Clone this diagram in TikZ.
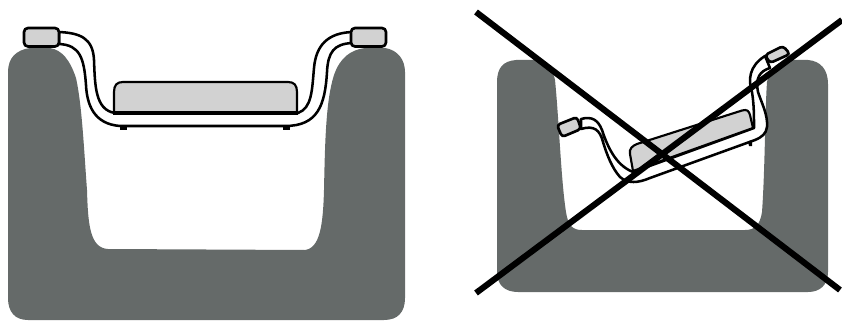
\documentclass[tikz,border=0pt]{standalone}
\usepackage{xcolor}
\definecolor{traygrey}{HTML}{656A69}
\definecolor{padgrey}{HTML}{D2D2D2}

\begin{document}
\begin{tikzpicture}[
  x=0.75pt, y=-0.75pt,
  tray/.style={fill=traygrey, draw=none},
  lead/.style={draw=black, fill=white, line width=1.9pt, line join=round},
  body/.style={draw=black, fill=padgrey, line width=1.6pt, line join=round},
  pad/.style={draw=black, fill=padgrey, line width=2pt, rounded corners=3pt},
  cross/.style={draw=black, line width=4.6pt}
]
\useasboundingbox (0,0) rectangle (842,321);

% good tray
\path[tray] (8,72) .. controls (8,58) and (16,50) .. (30,48) -- (50,48)
  .. controls (62,50) and (70,60) .. (76,78)
  .. controls (82,105) and (84,150) .. (87,190)
  .. controls (88,225) and (90,248) .. (108,249) -- (305,250)
  .. controls (320,248) and (323,225) .. (324,190)
  .. controls (325,140) and (326,100) .. (334,75)
  .. controls (340,58) and (350,50) .. (365,48) -- (385,48)
  .. controls (398,50) and (405,60) .. (405,72) -- (405,298)
  .. controls (405,312) and (398,320) .. (384,320) -- (28,320)
  .. controls (15,320) and (8,312) .. (8,298) -- cycle;

% good part
\draw[lead] (59,32) .. controls (80,33) and (93,38) .. (94,60)
  .. controls (95,85) and (95,110) .. (115,113) -- (298,113)
  .. controls (312,108) and (312,90) .. (314,68)
  .. controls (316,45) and (328,33) .. (352,32) -- (352,43)
  .. controls (334,44) and (328,52) .. (327,72)
  .. controls (325,105) and (318,126) .. (285,126) -- (120,126)
  .. controls (94,124) and (87,105) .. (86,85)
  .. controls (84,58) and (80,45) .. (59,44) -- cycle;
\fill[black] (120,126) rectangle (127,129.5);
\fill[black] (283,126) rectangle (290,129.5);
\draw[body] (114,113) -- (114,92) .. controls (114,85) and (117,82) .. (123,82)
  -- (288,82) .. controls (294,82) and (297,85) .. (297,92) -- (297,113) -- cycle;
\draw[line width=2.6pt] (113,113) -- (298,113);
\draw[pad] (24,28) rectangle (59,46.5);
\draw[pad] (351,28) rectangle (386,46.5);

% bad tray
\path[tray] (497,82) .. controls (497,68) and (503,61) .. (516,60) -- (540,60)
  .. controls (548,64) and (553,70) .. (555,80)
  .. controls (559,120) and (561,180) .. (566,212)
  .. controls (568,225) and (572,230) .. (582,230) -- (745,230)
  .. controls (755,230) and (760,225) .. (762,212)
  .. controls (765,170) and (765,110) .. (767,82)
  .. controls (770,68) and (778,60) .. (792,60) -- (808,60)
  .. controls (821,61) and (828,70) .. (828,84) -- (828,272)
  .. controls (828,285) and (820,292) .. (808,292) -- (518,292)
  .. controls (505,292) and (497,285) .. (497,272) -- cycle;

% bad part
\draw[lead] (581,119) .. controls (592,116) and (598,120) .. (602,130)
  .. controls (607,145) and (615,165) .. (633,172) -- (754,128)
  .. controls (754,115) and (754,105) .. (752,92)
  .. controls (748,80) and (749,66) .. (765,56) -- (770,68)
  .. controls (760,71) and (755,78) .. (758,92)
  .. controls (762,104) and (768,115) .. (767,127)
  .. controls (766,134) and (762,137) .. (755,140)
  -- (650,178) .. controls (638,183) and (628,184) .. (620,177)
  .. controls (612,168) and (607,155) .. (603,142)
  .. controls (600,130) and (594,125) .. (581,129) -- cycle;
\fill[black] (748,141.5) -- (752,140) -- (752,146) -- (749,146) -- cycle;
\draw[body] (633,171) -- (630,154) .. controls (629,149) and (632,146) .. (637,144)
  -- (742,110.5) .. controls (747,109) and (749,111) .. (750,115) -- (753,128) -- cycle;
\draw[pad, rounded corners=2.5pt] (557,125) -- (577,117) -- (581,129) -- (562,137) -- cycle;
\draw[pad, rounded corners=2.5pt] (765,55) -- (783,46) -- (790,54) -- (770,63) -- cycle;

% crossing out
\draw[cross] (476,12) -- (840,290);
\draw[cross] (842,20) -- (476,293);
\end{tikzpicture}
\end{document}
